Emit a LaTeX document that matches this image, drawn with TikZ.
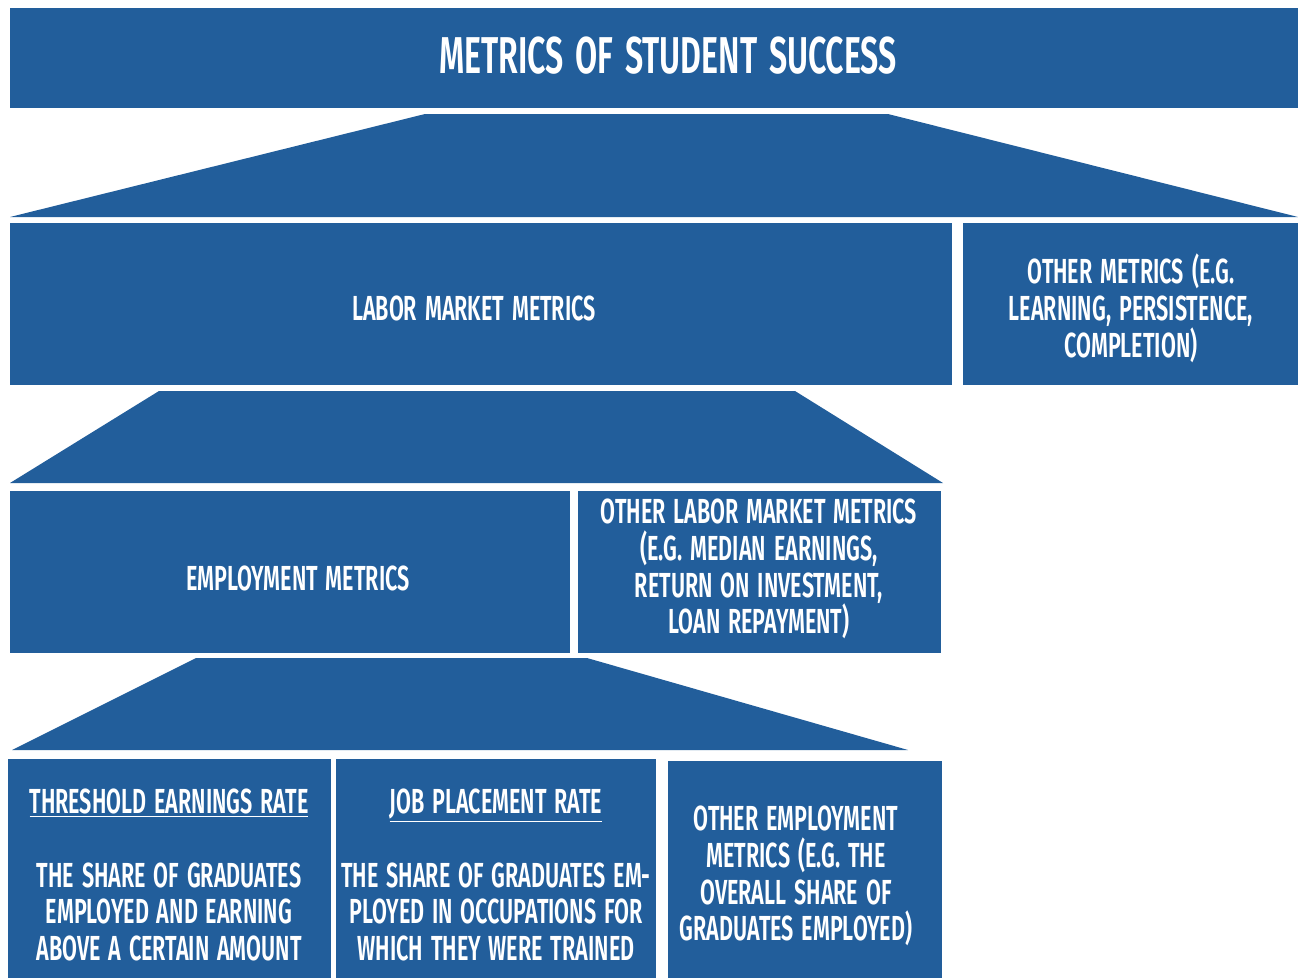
\documentclass[tikz,border=0pt]{standalone}
\usepackage{fontspec}
\setmainfont{Fira Sans}[FakeStretch=0.62, WordSpace=1.5, BoldFont={* SemiBold}]
\usetikzlibrary{positioning}
\definecolor{metricblue}{RGB}{34,94,155}

\tikzset{
  block/.style={fill=metricblue, draw=none},
  boxtext/.style={text=white, align=center, inner sep=0pt,
    font=\fontsize{19.8}{21}\selectfont\bfseries},
  headtext/.style={boxtext, font=\fontsize{29.5}{30}\selectfont\bfseries},
}

\begin{document}
\begin{tikzpicture}[x=0.02cm, y=-0.02cm]
	\useasboundingbox (0, 0) rectangle (1298, 978);

	% banner on top
	\fill[block] (10, 8) rectangle (1298, 108);
	\node[headtext] (success) at (668, 56) {METRICS OF STUDENT SUCCESS};

	% first level
	\fill[block] (10, 217) -- (425, 114) -- (888, 114) -- (1298, 217) -- cycle;
	\fill[block] (10, 223) rectangle (952, 385);
	\fill[block] (963, 223) rectangle (1298, 385);
	\node[boxtext] (labor) at (474, 308) {LABOR MARKET METRICS};
	\node[boxtext] (othermetrics) at (1131, 308)
		{OTHER METRICS (E.G.\\ LEARNING, PERSISTENCE,\\ COMPLETION)};

	% second level
	\fill[block] (10, 483) -- (159, 391) -- (795, 391) -- (943, 483) -- cycle;
	\fill[block] (10, 491) rectangle (570, 653);
	\fill[block] (578, 491) rectangle (941, 653);
	\node[boxtext] (employment) at (298, 578) {EMPLOYMENT METRICS};
	\node[boxtext] (otherlabor) at (759, 569)
		{OTHER LABOR MARKET METRICS\\ (E.G. MEDIAN EARNINGS,\\ RETURN ON INVESTMENT,\\ LOAN REPAYMENT)};

	% third level
	\fill[block] (12, 750) -- (196, 658) -- (587, 658) -- (908, 750) -- cycle;
	\fill[block] (8, 759) rectangle (331, 978);
	\fill[block] (336, 759) rectangle (656, 978);
	\fill[block] (668, 761) rectangle (942, 978);
	\node[boxtext] (threshold) at (169, 875)
		{\underline{THRESHOLD EARNINGS RATE}\\[21pt] THE SHARE OF GRADUATES\\ EMPLOYED AND EARNING\\ ABOVE A CERTAIN AMOUNT};
	\node[boxtext] (placement) at (496, 875)
		{\underline{JOB PLACEMENT RATE}\\[21pt] THE SHARE OF GRADUATES EM-\\ PLOYED IN OCCUPATIONS FOR\\ WHICH THEY WERE TRAINED};
	\node[boxtext] (otheremployment) at (796, 876)
		{OTHER EMPLOYMENT\\ METRICS (E.G. THE\\ OVERALL SHARE OF\\ GRADUATES EMPLOYED)};
\end{tikzpicture}
\end{document}
